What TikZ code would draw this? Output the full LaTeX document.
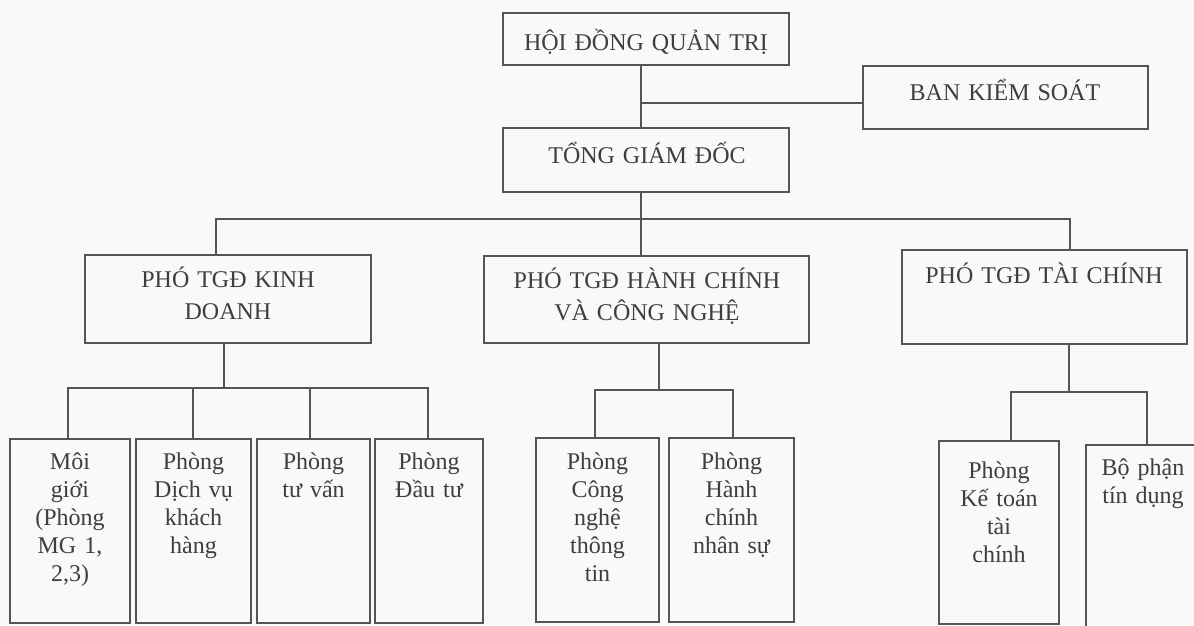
\documentclass[tikz,border=0pt]{standalone}
\usepackage{fontspec}
\setmainfont{Liberation Serif}
\definecolor{linec}{RGB}{85,85,85}
\definecolor{txtc}{RGB}{62,62,62}
\definecolor{bgc}{RGB}{249,249,247}
\begin{document}
\begin{tikzpicture}[x=1pt,y=-1pt,
  box/.style={draw=linec, line width=1.5pt, inner sep=0pt, rectangle},
  lbl/.style={text width=300pt, align=center, inner sep=0pt, anchor=base, text=txtc, font=\fontsize{24}{32}\selectfont},
  lbs/.style={lbl, font=\fontsize{24}{28}\selectfont},
  link/.style={draw=linec, line width=1.5pt}]
\fill[bgc] (0,0) rectangle (1194,625);
\useasboundingbox (0,0) rectangle (1194,625);
\clip (0,0) rectangle (1194,625);

% top level boxes
\node[box, minimum width=286pt, minimum height=52pt] (hdqt) at (646,39) {};
\node[box, minimum width=285pt, minimum height=63pt] (bks) at (1005.5,97.5) {};
\node[box, minimum width=286pt, minimum height=64pt] (tgd) at (646,160) {};
\node[box, minimum width=286pt, minimum height=88pt] (pkd) at (228,299) {};
\node[box, minimum width=325pt, minimum height=87pt] (pcn) at (646.5,299.5) {};
\node[box, minimum width=285pt, minimum height=94pt] (ptc) at (1044.5,297) {};

% bottom boxes
\node[box, minimum width=120pt, minimum height=184pt] (b1) at (70,531) {};
\node[box, minimum width=115pt, minimum height=184pt] (b2) at (193.5,531) {};
\node[box, minimum width=113pt, minimum height=184pt] (b3) at (313.5,531) {};
\node[box, minimum width=108pt, minimum height=184pt] (b4) at (429,531) {};
\node[box, minimum width=123pt, minimum height=184pt] (b5) at (597.5,530) {};
\node[box, minimum width=125pt, minimum height=184pt] (b6) at (731.5,530) {};
\node[box, minimum width=120pt, minimum height=183pt] (b7) at (999,532.5) {};
\node[box, minimum width=119pt, minimum height=182pt] (b8) at (1145.5,536) {};

% texts
\node[lbl] (thdqt) at (646,50) {HỘI ĐỒNG QUẢN TRỊ};
\node[lbl] (tbks) at (1005,100) {BAN KIỂM SOÁT};
\node[lbl] (ttgd) at (647,163) {TỔNG GIÁM ĐỐC};
\node[lbl] (tpkd) at (228,287) {PHÓ TGĐ KINH\\DOANH};
\node[lbl] (tpcn) at (647,288) {PHÓ TGĐ HÀNH CHÍNH\\VÀ CÔNG NGHỆ};
\node[lbl] (tptc) at (1044,283) {PHÓ TGĐ TÀI CHÍNH};

\node[lbs] (tb1) at (70,469) {Môi\\giới\\(Phòng\\MG 1,\\2,3)};
\node[lbs] (tb2) at (193.5,469) {Phòng\\Dịch vụ\\khách\\hàng};
\node[lbs] (tb3) at (313.5,469) {Phòng\\tư vấn};
\node[lbs] (tb4) at (429,469) {Phòng\\Đầu tư};
\node[lbs] (tb5) at (597.5,469) {Phòng\\Công\\nghệ\\thông\\tin};
\node[lbs] (tb6) at (731.5,469) {Phòng\\Hành\\chính\\nhân sự};
\node[lbs] (tb7) at (999,478) {Phòng\\Kế toán\\tài\\chính};
\node[lbs] (tb8) at (1143,475) {Bộ phận\\tín dụng};

% junction coordinates
\coordinate (j1) at (641,103);
\coordinate (busL) at (216,219);
\coordinate (busM) at (641,219);
\coordinate (busR) at (1070,219);
\coordinate (k) at (224,388);
\coordinate (k1) at (68,388);
\coordinate (k2) at (193,388);
\coordinate (k3) at (310,388);
\coordinate (k4) at (428,388);
\coordinate (h) at (659,390);
\coordinate (h1) at (595,390);
\coordinate (h2) at (733,390);
\coordinate (f) at (1069,392);
\coordinate (f1) at (1011,392);
\coordinate (f2) at (1147,392);

% connectors
\draw[link] (hdqt.south -| j1) -- (tgd.north -| j1);
\draw[link] (j1) -- (j1 -| bks.west);
\draw[link] (tgd.south -| busM) -- (pcn.north -| busM);
\draw[link] (pkd.north -| busL) -- (busL) -- (busR) -- (busR |- ptc.north);

\draw[link] (pkd.south -| k) -- (k);
\draw[link] (k1 |- b1.north) -- (k1) -- (k4) -- (k4 |- b4.north);
\draw[link] (k2) -- (k2 |- b2.north);
\draw[link] (k3) -- (k3 |- b3.north);

\draw[link] (pcn.south -| h) -- (h);
\draw[link] (h1 |- b5.north) -- (h1) -- (h2) -- (h2 |- b6.north);

\draw[link] (ptc.south -| f) -- (f);
\draw[link] (f1 |- b7.north) -- (f1) -- (f2) -- (f2 |- b8.north);
\end{tikzpicture}
\end{document}
